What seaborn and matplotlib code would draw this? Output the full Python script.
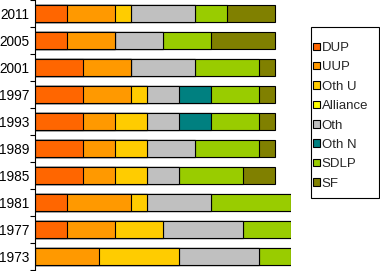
import matplotlib
matplotlib.use("Agg")
import matplotlib.pyplot as plt
from matplotlib.patches import Patch, Rectangle
import numpy as np
import pandas as pd
import seaborn as sns

# seats per party, one value per election (top row first)
years = ["2011", "2005", "2001", "1997", "1993", "1989", "1985", "1981", "1977", "1973"]
parties = ["DUP", "UUP", "Oth U", "Alliance", "Oth", "Oth N", "SDLP", "SF"]
colors = ["#FF6600", "#FF9900", "#FFCC00", "#FFFF00", "#C0C0C0", "#008080", "#99CC00", "#808000"]

dup = [2, 2, 3, 3, 3, 3, 3, 2, 2, 0]
uup = [3, 3, 3, 3, 2, 2, 2, 4, 3, 4]
oth_u = [1, 0, 0, 1, 2, 2, 2, 1, 3, 5]
alliance = [0, 0, 0, 0, 0, 0, 0, 0, 0, 0]
oth = [4, 3, 4, 2, 2, 3, 2, 4, 5, 5]
oth_n = [0, 0, 0, 2, 2, 0, 0, 0, 0, 0]
sdlp = [2, 3, 4, 3, 3, 4, 4, 5, 3, 2]
sf = [3, 4, 1, 1, 1, 1, 2, 0, 0, 0]

sns.set_style("white")
plt.rcParams["font.family"] = ["Liberation Sans", "DejaVu Sans"]

seats = pd.DataFrame({
    "DUP": dup, "UUP": uup, "Oth U": oth_u, "Alliance": alliance,
    "Oth": oth, "Oth N": oth_n, "SDLP": sdlp, "SF": sf,
}, index=years)
cum = seats[parties].cumsum(axis=1)

W, H = 380, 271
fig = plt.figure(figsize=(W / 100, H / 100), dpi=100)
ax = fig.add_axes([35 / W, 1 / H, 256 / W, 270 / H])

# stack by overdrawing running totals, widest first
for party, col in reversed(list(zip(parties, colors))):
    sns.barplot(x=cum[party].values, y=years, order=years, orient="h",
                color=col, saturation=1, width=0.63, edgecolor="black",
                linewidth=0.8, errorbar=None, ax=ax)

ax.set_xlim(0, 16)
ax.set_ylim(9.5, -0.5)
ax.set_xlabel("")
ax.set_ylabel("")
ax.set_xticks([])
for side in ["top", "right", "bottom"]:
    ax.spines[side].set_visible(False)
ax.spines["left"].set_color("black")
ax.spines["left"].set_linewidth(0.8)

ax.set_yticks(np.arange(-0.5, 10, 1), minor=True)
ax.tick_params(axis="y", which="major", length=0, pad=4, labelsize=9.8, labelcolor="black")
ax.tick_params(axis="y", which="minor", left=True, length=3.5, width=0.8, color="black")

# legend box drawn separately so the padding matches
fig.patches.append(Rectangle((311 / W, 1 - 198 / H), 68 / W, 171 / H,
                             transform=fig.transFigure, facecolor="white",
                             edgecolor="black", linewidth=0.8))
handles = [Patch(facecolor=c, edgecolor="black", linewidth=0.8, label=p)
           for p, c in zip(parties, colors)]
leg = fig.legend(handles=handles, loc="upper left",
                 bbox_to_anchor=(313 / W, 1 - 42 / H), frameon=False,
                 fontsize=9.5, handlelength=0.5, handleheight=0.5,
                 handletextpad=0.15, labelspacing=0.56, borderpad=0,
                 borderaxespad=0)

fig.savefig("out.png", dpi=100)
